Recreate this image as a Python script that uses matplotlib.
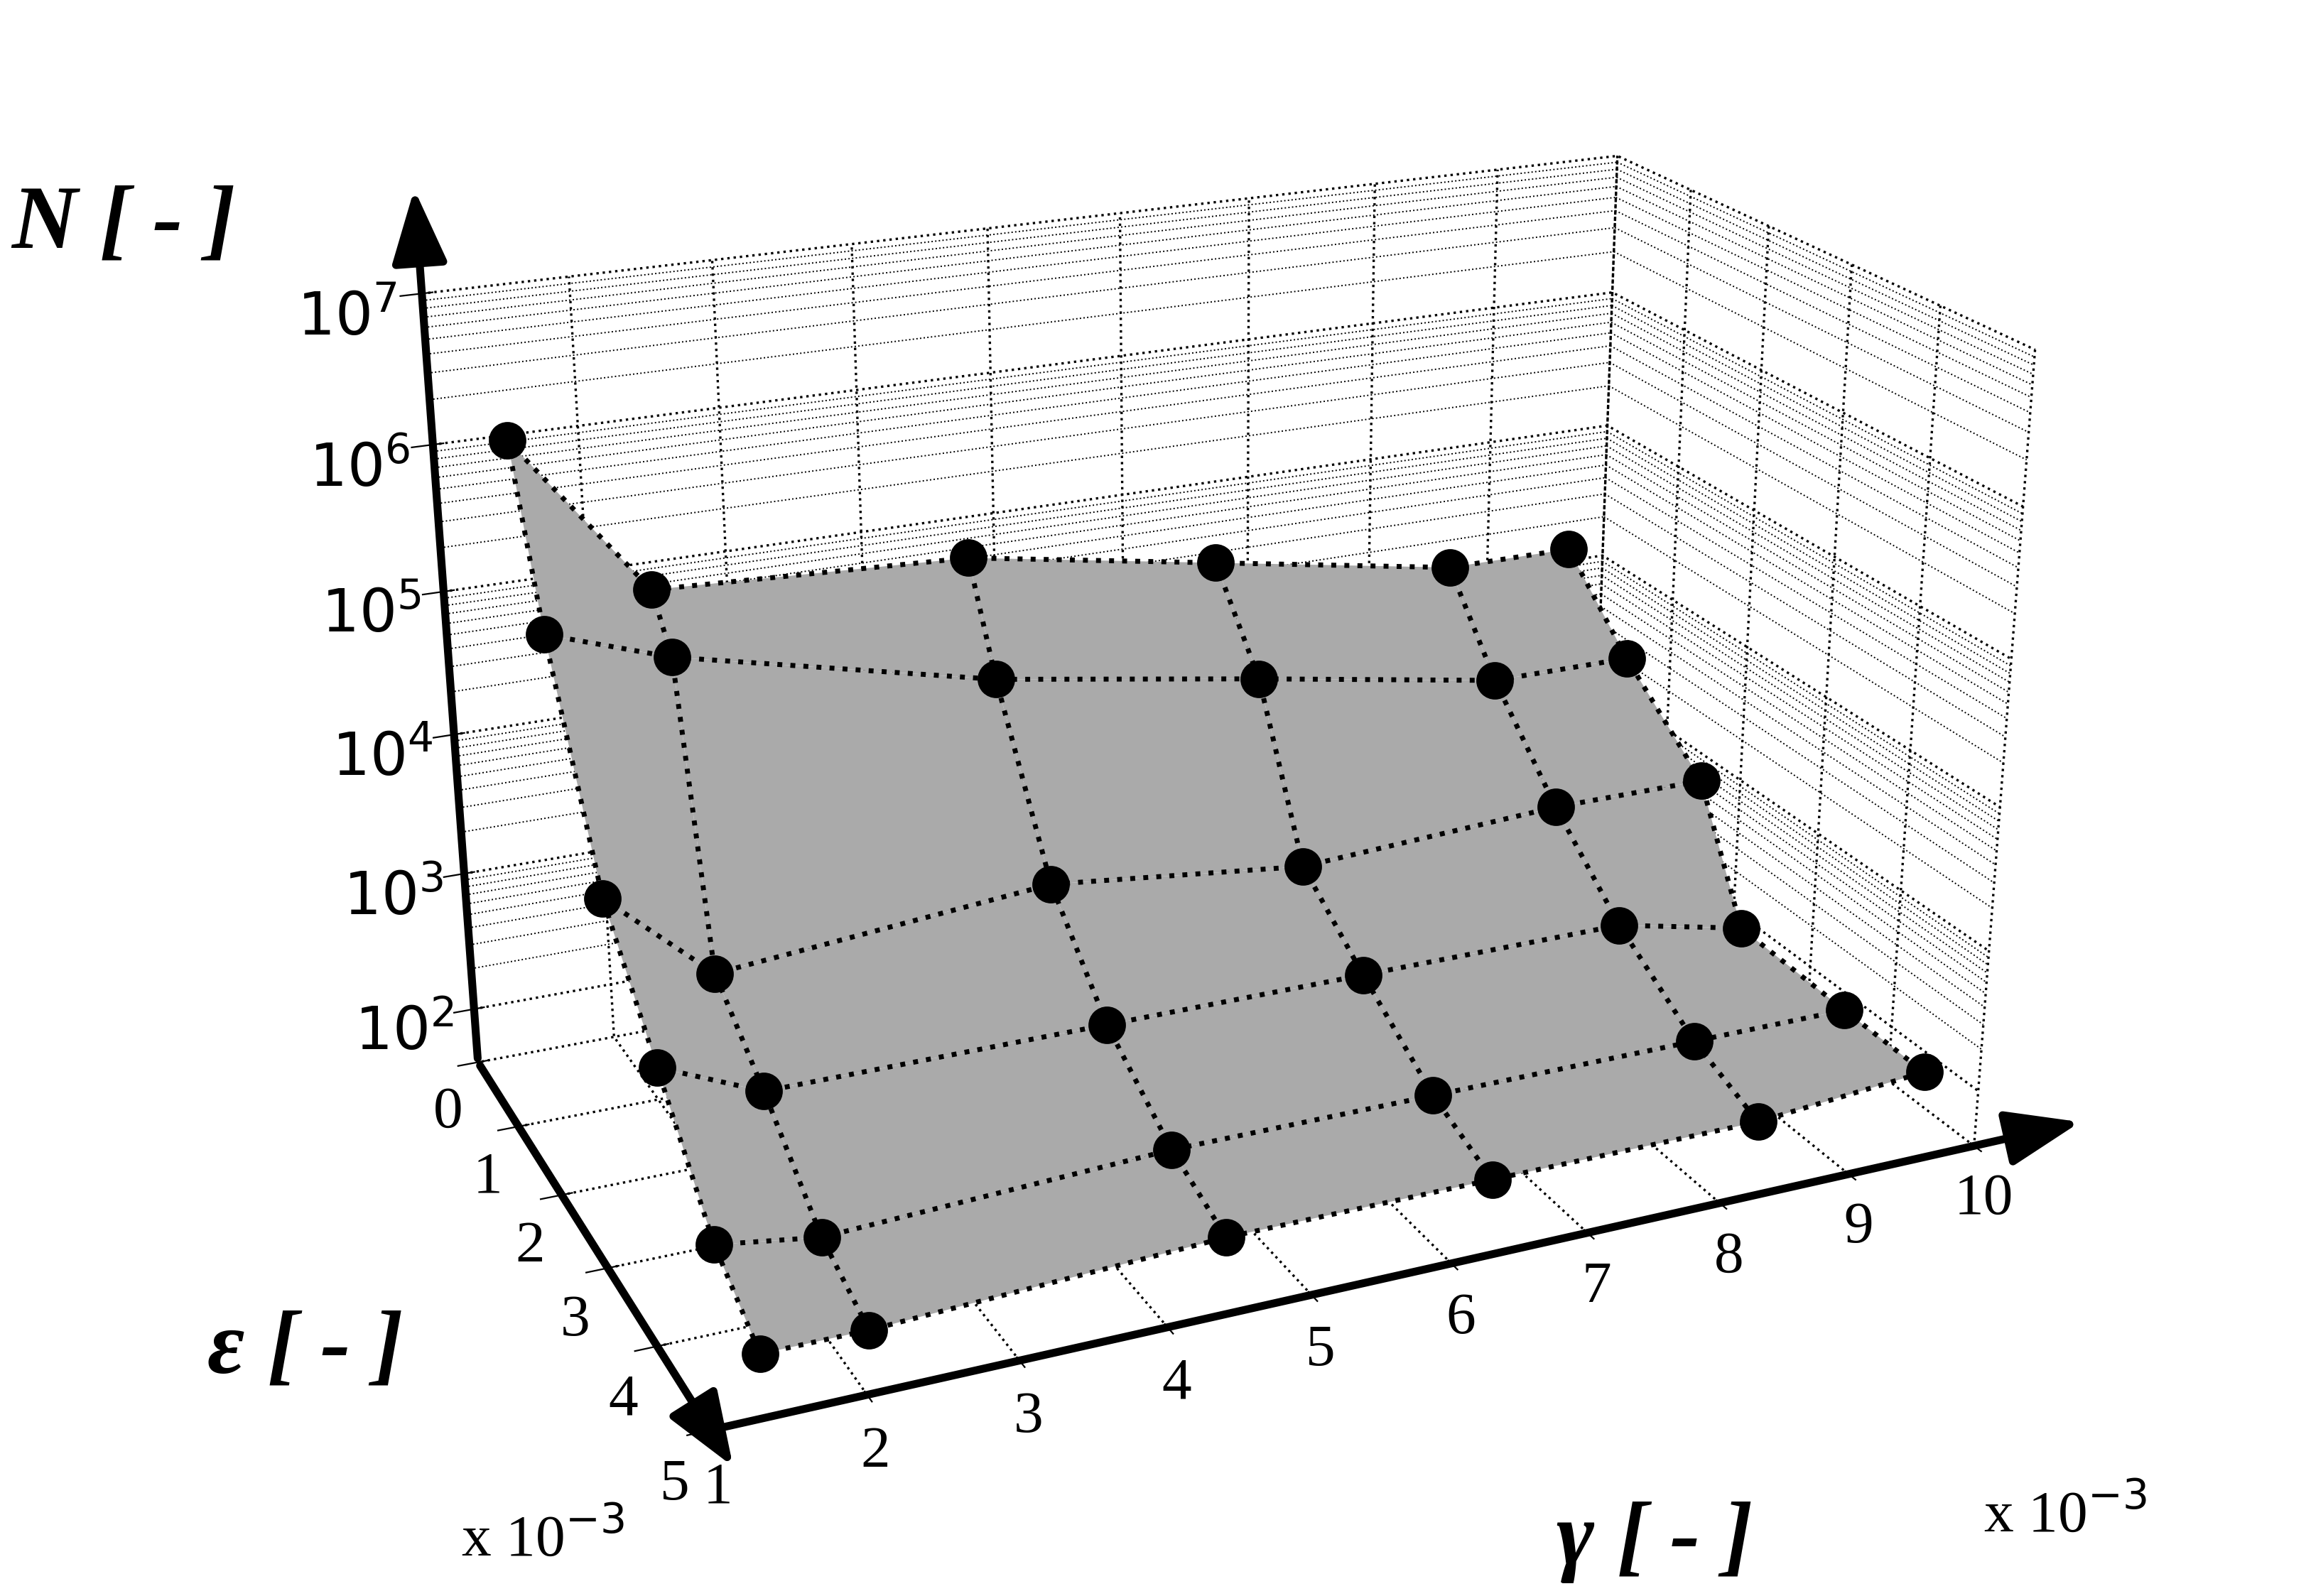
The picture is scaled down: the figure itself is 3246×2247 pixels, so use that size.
import numpy as np
import matplotlib
matplotlib.use("Agg")
import matplotlib.pyplot as plt
from mpl_toolkits.mplot3d import Axes3D, proj3d

plt.rcParams['font.family'] = ['Liberation Serif', 'DejaVu Serif']

gamma = np.array([
    [1.4, 2.3, 4.6, 6.5, 8.4, 9.4],
    [1.4, 2.2, 4.5, 6.5, 8.4, 9.5],
    [1.4, 2.1, 4.5, 6.4, 8.4, 9.6],
    [1.4, 2.1, 4.5, 6.4, 8.4, 9.4],
    [1.4, 2.1, 4.5, 6.4, 8.4, 9.6],
    [1.4, 2.1, 4.5, 6.4, 8.4, 9.7]])
eps = np.array([
    [0.4, 0.5, 0.5, 0.5, 0.5, 0.5],
    [1.0, 1.2, 1.2, 1.2, 1.2, 1.2],
    [2.0, 2.1, 2.1, 2.1, 2.1, 2.1],
    [3.0, 3.0, 3.0, 3.0, 3.0, 3.0],
    [4.0, 4.0, 4.0, 4.0, 4.0, 4.0],
    [4.8, 4.8, 4.8, 4.8, 4.8, 4.8]])
logN = np.array([
    [6.1, 5.0, 4.9, 4.6, 4.3, 4.3],
    [5.0, 4.8, 4.3, 4.0, 3.7, 3.7],
    [3.6, 3.0, 3.2, 3.0, 3.1, 3.1],
    [2.9, 2.6, 2.6, 2.6, 2.6, 2.4],
    [2.2, 2.1, 2.2, 2.2, 2.2, 2.2],
    [1.9, 1.9, 2.0, 2.0, 2.0, 2.1]])

zticks = [2, 3, 4, 5, 6, 7]
zlabels = ['$10^2$', '$10^3$', '$10^4$', '$10^5$', '$10^6$', '$10^7$']

fig = plt.figure(figsize=(16.23, 11.235), dpi=200)
ax = fig.add_axes([-0.025, -0.01, 1.08, 1.08], projection='3d')
ax.set_proj_type('persp', focal_length=0.45)
ax.view_init(elev=22, azim=-114)

for d in range(2, 7):
    for k in range(2, 10):
        zz = d + np.log10(k)
        ax.plot([1, 10], [0, 0], [zz, zz], color='k', ls=':', lw=0.7, zorder=0)
        ax.plot([10, 10], [0, 5], [zz, zz], color='k', ls=':', lw=0.7, zorder=0)

ax.plot_surface(gamma, eps, logN, color='#aaaaaa', shade=False, edgecolor='none', alpha=1)
for i in range(6):
    ax.plot(gamma[i], eps[i], logN[i], 'k:', lw=2.5, zorder=5)
    ax.plot(gamma[:, i], eps[:, i], logN[:, i], 'k:', lw=2.5, zorder=5)
ax.plot(gamma.ravel(), eps.ravel(), logN.ravel(), 'o', color='k', ms=18, ls='none', zorder=6)

ax.set_xlim(1, 10)
ax.set_ylim(5, 0)
ax.set_zlim(1.6, 7)
ax.set_xticks(range(1, 11))
ax.set_yticks(range(0, 6))
ax.set_zticks(zticks)
ax.set_zticklabels(zlabels)
ax.tick_params(labelsize=30)
ax.tick_params(axis='z', pad=14)
for a in (ax.xaxis, ax.yaxis, ax.zaxis):
    a.set_pane_color((1, 1, 1, 0))
    a._axinfo['grid']['linestyle'] = ':'
    a._axinfo['grid']['color'] = 'k'
    a._axinfo['grid']['linewidth'] = 1.2
    a.line.set_linewidth(0)
ax.set_box_aspect((1.75, 1.05, 1.1))

fig.canvas.draw()
def disp(x, y, z):
    X, Y, _ = proj3d.proj_transform(x, y, z, ax.get_proj())
    return fig.transFigure.inverted().transform(ax.transData.transform((X, Y)))

def arrow(p0, p1):
    a0 = disp(*p0); a1 = disp(*p1)
    fig.add_artist(matplotlib.patches.FancyArrowPatch(a0, a1, transform=fig.transFigure,
                   arrowstyle='-|>,head_length=1.6,head_width=0.6', mutation_scale=20,
                   lw=4, color='k'))

arrow((1, 0, 1.6), (1, 0, 7.7))
arrow((1, 0, 1.6), (1, 5.45, 1.6))
arrow((1, 5, 1.6), (10.9, 5, 1.6))

fig.text(0.005, 0.845, 'N [ - ]', fontsize=46, fontweight='bold', style='italic')
fig.text(0.09, 0.14, 'ε [ - ]', fontsize=46, fontweight='bold', style='italic')
fig.text(0.675, 0.02, 'γ [ - ]', fontsize=46, fontweight='bold', style='italic')
fig.text(0.2, 0.025, 'x 10$^{-3}$', fontsize=30)
fig.text(0.86, 0.04, 'x 10$^{-3}$', fontsize=30)
fig.savefig('out.png', dpi=200)
